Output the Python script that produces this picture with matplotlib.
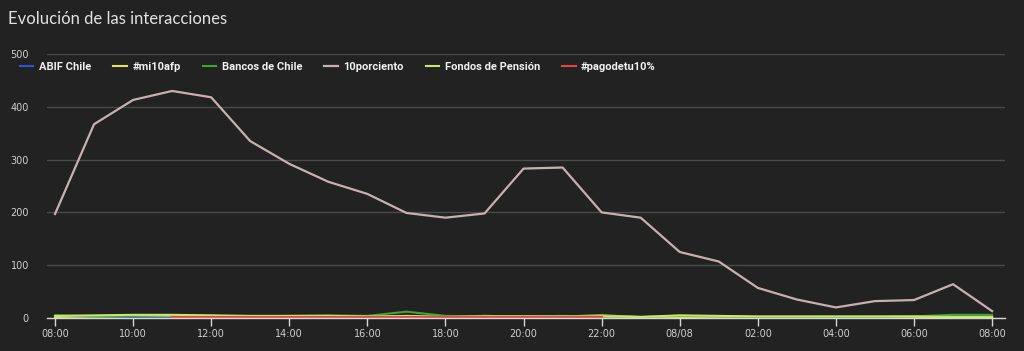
import numpy as np
import matplotlib
matplotlib.use("Agg")
import matplotlib.pyplot as plt

# hourly points, 08:00 to 08:00 next day
hours = list(range(25))
tick_pos = list(range(0, 25, 2))
tick_labels = ["08:00", "10:00", "12:00", "14:00", "16:00", "18:00", "20:00",
               "22:00", "08/08", "02:00", "04:00", "06:00", "08:00"]

porciento = [197, 367, 413, 430, 418, 335, 292, 258, 235, 199, 190, 198, 283,
             285, 200, 190, 125, 107, 57, 35, 20, 32, 34, 64, 13]
bancos = [5, 3, 4, 5, 4, 3, 4, 5, 4, 12, 4, 3, 3, 4, 3, 2, 4, 3, 2, 2, 2, 2, 3, 6, 6]
fondos = [4, 5, 6, 6, 5, 4, 4, 4, 3, 3, 2, 3, 3, 3, 3, 2, 5, 4, 3, 3, 3, 3, 3, 2, 2]
mi10afp = [2, 3, 4, 4, 4, 3, 3, 3, 2, 4, 2, 4, 3, 3, 5, 2, 2, 2, 2, 2, 2, 2, 2, 2, 2]
pagodetu = [np.nan] * 3 + [2] * 12 + [np.nan] * 10
abif = [0] * 25

bg = "#222222"
fig = plt.figure(figsize=(10.24, 3.51), dpi=100, facecolor=bg)
ax = fig.add_axes([47 / 1024, 1 - 318 / 351, (1005 - 47) / 1024, (318 - 54) / 351])
ax.set_facecolor(bg)

ax.plot(hours, abif, color="#3352d8", lw=1.5, label="ABIF Chile")
ax.plot(hours, mi10afp, color="#e6e05a", lw=1.5, label="#mi10afp")
ax.plot(hours, bancos, color="#3fa535", lw=1.5, label="Bancos de Chile")
ax.plot(hours, porciento, color="#c9b0b0", lw=1.6, label="10porciento")
ax.plot(hours, fondos, color="#c8e86a", lw=1.5, label="Fondos de Pensión")
ax.plot(hours, pagodetu, color="#e0473f", lw=1.5, label="#pagodetu10%")

ax.set_xlim(-0.205, 24.33)
ax.set_ylim(0, 500)
ax.set_yticks([0, 100, 200, 300, 400, 500])
ax.set_xticks(tick_pos)
ax.set_xticklabels(tick_labels)
ax.tick_params(axis="y", length=0, pad=13, labelsize=7, labelcolor="#d0d0d0")
ax.tick_params(axis="x", length=6, width=1, color="#d8d8d8", pad=2,
               labelsize=7, labelcolor="#d0d0d0")
ax.grid(axis="y", color="#4a4a4a", lw=1)
ax.set_axisbelow(True)
for s in ["top", "right", "left"]:
    ax.spines[s].set_visible(False)
ax.spines["bottom"].set_color("#d8d8d8")
ax.spines["bottom"].set_linewidth(1)

fig.text(8 / 1024, 1 - 19 / 351, "Evolución de las interacciones", fontsize=12,
         family="Lato", color="#e2e2e2", va="center", ha="left")

leg = fig.legend(loc="upper left", bbox_to_anchor=(10 / 1024, 1 - 52 / 351), ncol=6,
                 frameon=False, handlelength=1.2, handletextpad=0.5, columnspacing=2.0,
                 prop={"family": "Roboto", "weight": "bold", "size": 8})
for t in leg.get_texts():
    t.set_color("#f0f0f0")

plt.savefig("out.png", dpi=100, facecolor=bg)
